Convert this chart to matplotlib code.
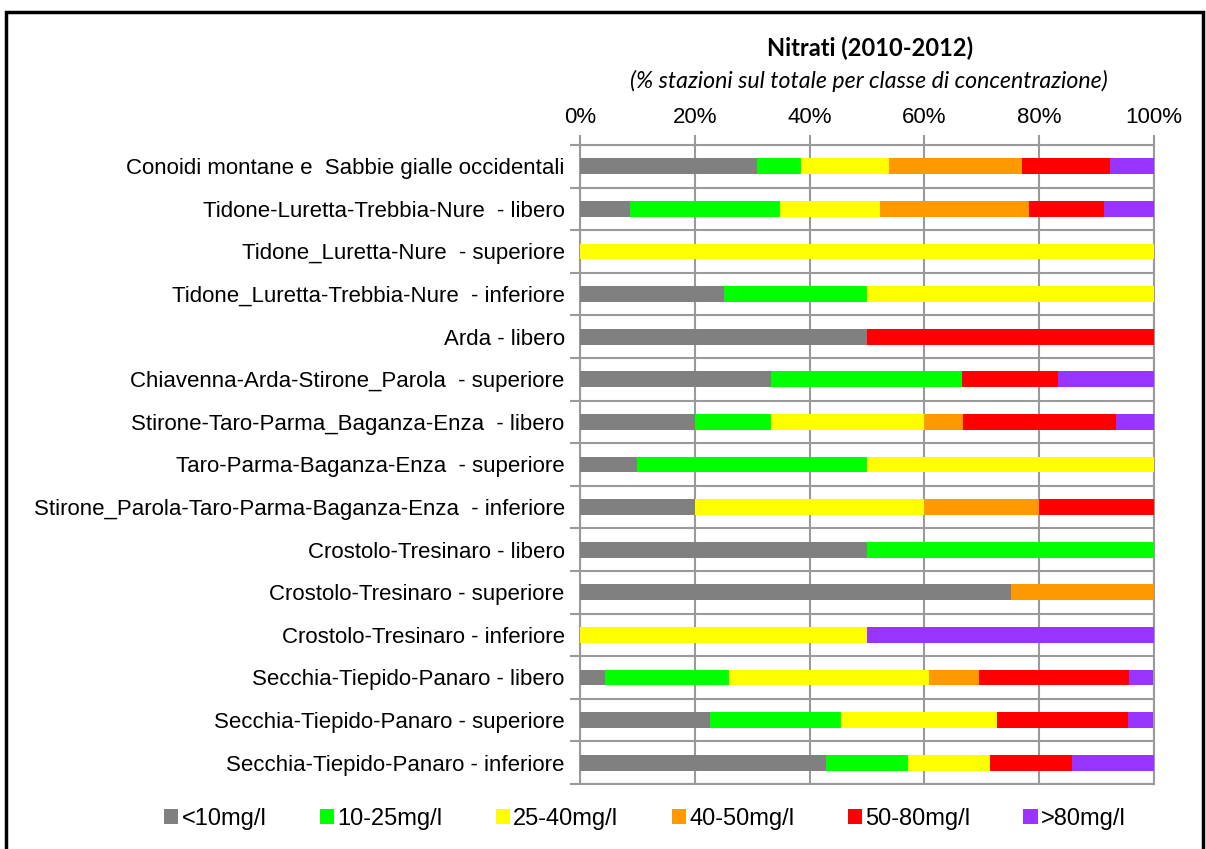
import matplotlib
matplotlib.use('Agg')
from matplotlib import pyplot as plt
from matplotlib.patches import Rectangle
import numpy as np

categories = [
    'Conoidi montane e  Sabbie gialle occidentali',
    'Tidone-Luretta-Trebbia-Nure  - libero',
    'Tidone_Luretta-Nure  - superiore',
    'Tidone_Luretta-Trebbia-Nure  - inferiore',
    'Arda - libero',
    'Chiavenna-Arda-Stirone_Parola  - superiore',
    'Stirone-Taro-Parma_Baganza-Enza  - libero',
    'Taro-Parma-Baganza-Enza  - superiore',
    'Stirone_Parola-Taro-Parma-Baganza-Enza  - inferiore',
    'Crostolo-Tresinaro - libero',
    'Crostolo-Tresinaro - superiore',
    'Crostolo-Tresinaro - inferiore',
    'Secchia-Tiepido-Panaro - libero',
    'Secchia-Tiepido-Panaro - superiore',
    'Secchia-Tiepido-Panaro - inferiore',
]

classes = ['<10mg/l', '10-25mg/l', '25-40mg/l', '40-50mg/l', '50-80mg/l', '>80mg/l']
colors = ['#808080', '#00ff00', '#ffff00', '#ff9900', '#ff0000', '#9933ff']

# % of stations per class, one list per class (same order as categories)
lt10 = [30.8, 8.7, 0, 25, 50, 33.3, 20.0, 10, 20, 50, 75, 0, 4.3, 22.7, 42.9]
c10_25 = [7.7, 26.1, 0, 25, 0, 33.3, 13.3, 40, 0, 50, 0, 0, 21.7, 22.7, 14.3]
c25_40 = [15.4, 17.4, 100, 50, 0, 0, 26.7, 50, 40, 0, 0, 50, 34.8, 27.3, 14.3]
c40_50 = [23.1, 26.1, 0, 0, 0, 0, 6.7, 0, 20, 0, 25, 0, 8.7, 0, 0]
c50_80 = [15.4, 13.0, 0, 0, 50, 16.7, 26.7, 0, 20, 0, 0, 0, 26.1, 22.7, 14.3]
gt80 = [7.7, 8.7, 0, 0, 0, 16.7, 6.7, 0, 0, 0, 0, 50, 4.3, 4.5, 14.3]

series = [lt10, c10_25, c25_40, c40_50, c50_80, gt80]

fig = plt.figure(figsize=(12.06, 8.49), dpi=100)
ax = fig.add_axes([580/1206, 1 - 784/849, 574/1206, 639/849])

y = np.arange(len(categories))
left = np.zeros(len(categories))
for vals, name, col in zip(series, classes, colors):
    vals = np.array(vals, dtype=float)
    ax.barh(y, vals, left=left, height=0.37, color=col, label=name, zorder=3)
    left += vals

grid_col = '#9a9a9a'
ax.set_xlim(0, 100)
ax.set_ylim(len(categories) - 0.5, -0.5)
ax.set_xticks(np.arange(0, 101, 20))
ax.set_xticklabels(['%d%%' % v for v in range(0, 101, 20)], fontsize=16,
                   family='Liberation Sans')
ax.xaxis.tick_top()
ax.tick_params(axis='x', direction='out', length=7, color=grid_col, width=1.5, pad=5)
ax.set_yticks(y)
ax.set_yticklabels(categories, fontsize=16, family='Liberation Sans')
ax.tick_params(axis='y', which='major', length=0, pad=11)
ax.set_yticks(np.arange(-0.5, len(categories)), minor=True)
ax.tick_params(axis='y', which='minor', direction='out', length=7, color=grid_col, width=1.5)
ax.grid(axis='x', color=grid_col, lw=1.5, zorder=0)
ax.grid(axis='y', which='minor', color=grid_col, lw=1.5, zorder=0)
for s in ax.spines.values():
    s.set_color(grid_col)
    s.set_linewidth(1.5)

fig.text(870/1206, 1 - 48/849, 'Nitrati (2010-2012)', ha='center', va='center',
         fontsize=17, fontweight='bold', family='Lato')
fig.text(869/1206, 1 - 81/849, '(% stazioni sul totale per classe di concentrazione)',
         ha='center', va='center', fontsize=16.7, style='italic', family='Lato')

fig.legend(loc='center', bbox_to_anchor=(645/1206, 1 - 819/849), ncol=6,
           frameon=False, prop={'family': 'Liberation Sans', 'size': 17},
           handlelength=0.6, handleheight=0.6, handletextpad=0.15, columnspacing=2.25)

fig.patches.append(Rectangle((6/1206, -0.02), 1197/1206, 1.02 - 12/849,
                             transform=fig.transFigure, fill=False,
                             edgecolor='black', lw=2.5))

fig.savefig('out.png', dpi=100)
